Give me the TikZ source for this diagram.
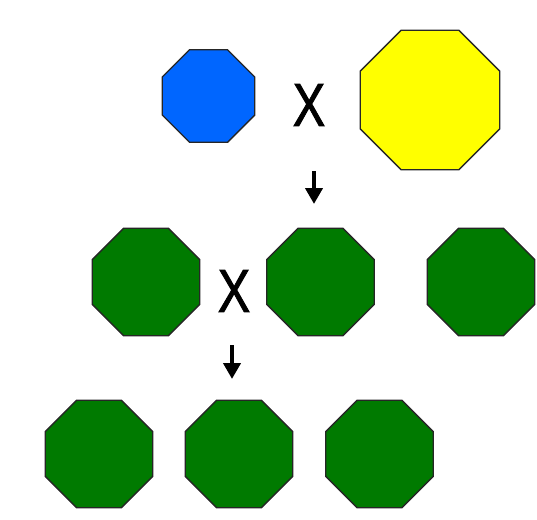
\documentclass[tikz,border=0pt]{standalone}
\usepackage{fontspec}
\setmainfont{Liberation Sans}
\newfontfamily\crossfont[FakeBold=1.6]{Liberation Sans}
\usetikzlibrary{shapes.geometric,arrows.meta}
\definecolor{octblue}{RGB}{0,102,255}
\definecolor{octyellow}{RGB}{255,255,0}
\definecolor{octgreen}{RGB}{0,122,0}
\tikzset{
  oct/.style={regular polygon, regular polygon sides=8, inner sep=0pt, draw=black!85, line width=1.3pt},
  small/.style={oct, minimum size=100pt},
  big/.style={oct, minimum size=151pt},
  mid/.style={oct, minimum size=116.5pt, fill=octgreen},
  cross/.style={inner sep=0pt, font=\crossfont\fontsize{61}{61}\selectfont},
  down/.style={line width=4.5pt, -{Triangle[width=17pt,length=16pt]}}
}
\newcommand{\crossmark}{\scalebox{0.8}[1]{X}}
\begin{document}
\begin{tikzpicture}[x=1pt,y=-1pt]
\useasboundingbox (0,0) rectangle (537,519);
% row 1
\node[small, fill=octblue] (blue) at (208.5,96) {};
\node[cross] (x1) at (309,105) {\crossmark};
\node[big, fill=octyellow] (yellow) at (430,100) {};
\coordinate (a1s) at (314,171);
\coordinate (a1e) at (314,204);
\draw[down] (a1s) -- (a1e);
% row 2
\node[mid] (g21) at (146,282) {};
\node[cross] (x2) at (234,291) {\crossmark};
\node[mid] (g22) at (320.5,282) {};
\node[mid] (g23) at (481,282) {};
\coordinate (a2s) at (232,345);
\coordinate (a2e) at (232,379);
\draw[down] (a2s) -- (a2e);
% row 3
\node[mid] (g31) at (99,454) {};
\node[mid] (g32) at (239,454) {};
\node[mid] (g33) at (379.5,454) {};
\end{tikzpicture}
\end{document}
